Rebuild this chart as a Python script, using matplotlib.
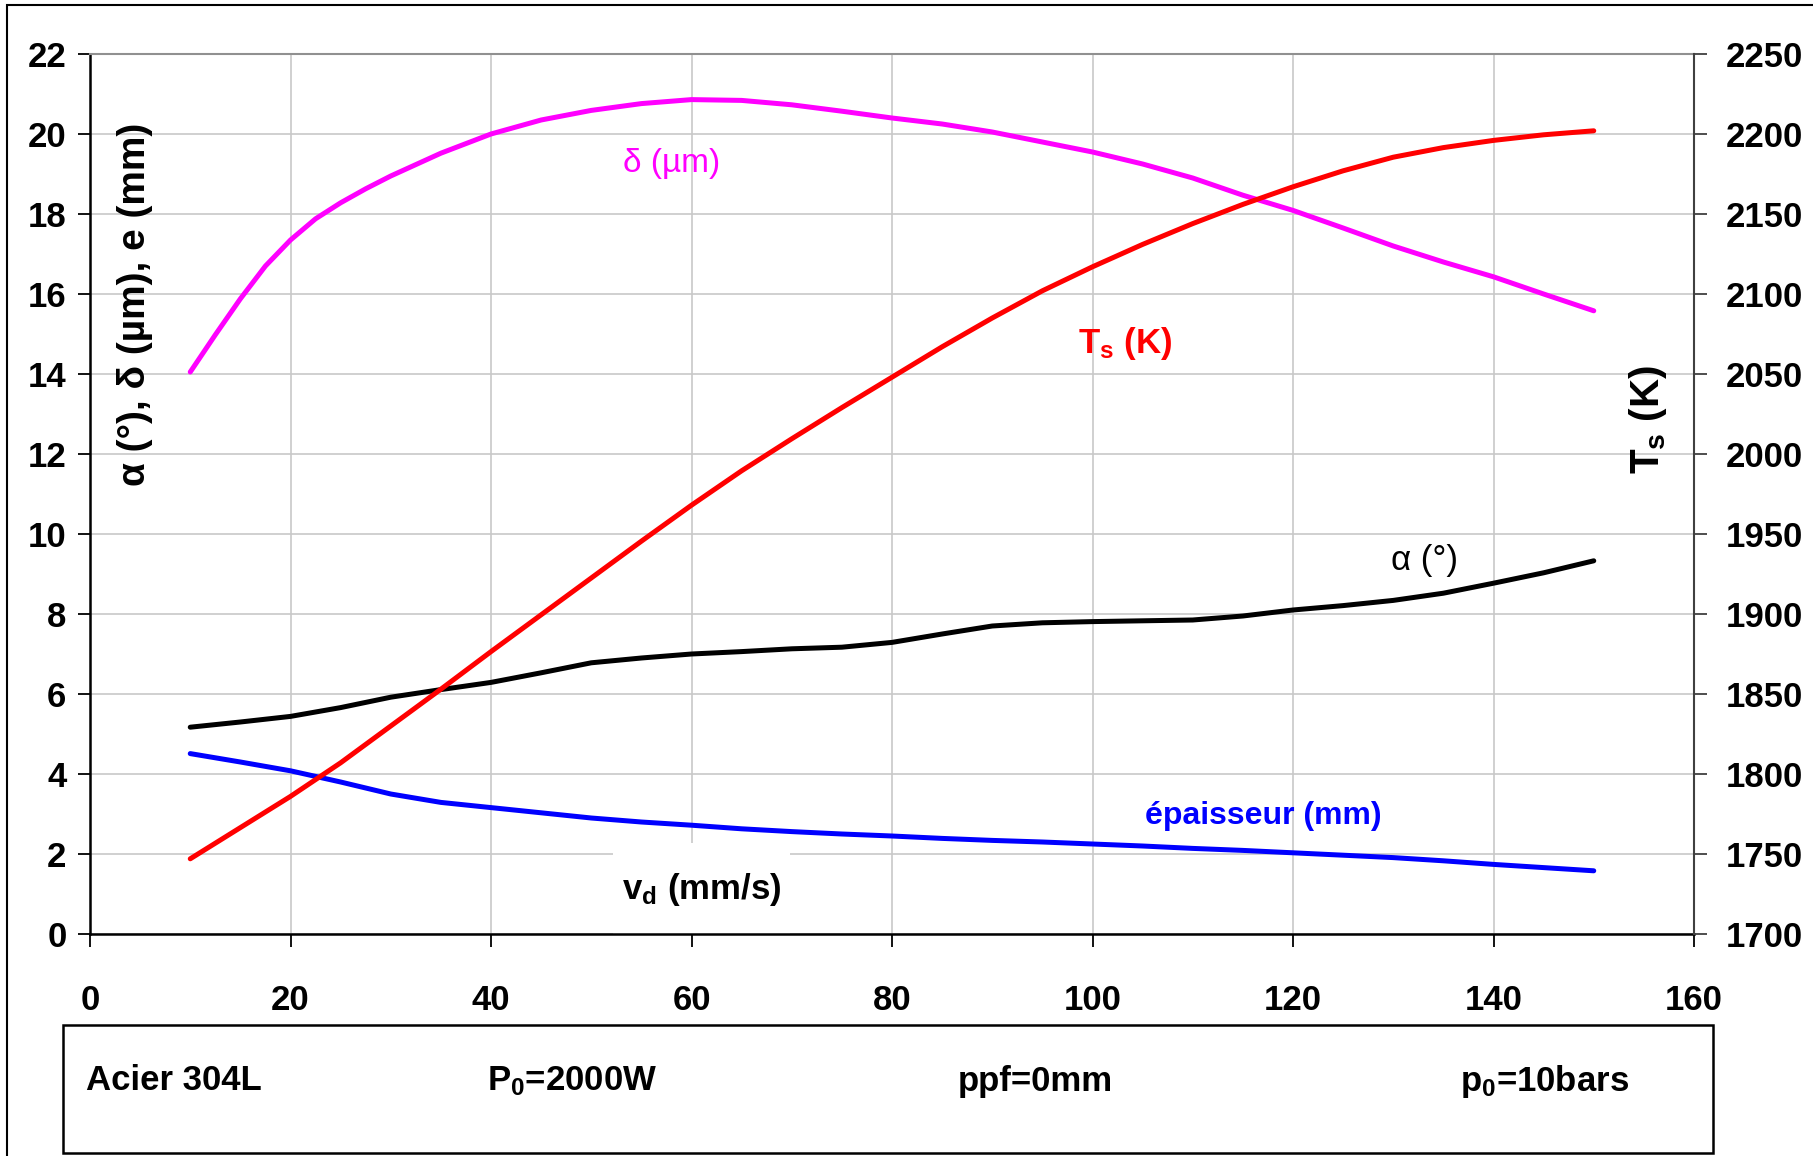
import matplotlib
matplotlib.use("Agg")
import matplotlib.pyplot as plt
from matplotlib.patches import Rectangle

plt.rcParams['font.family'] = ['Liberation Sans', 'DejaVu Sans']
plt.rcParams['font.weight'] = 'bold'
plt.rcParams['mathtext.default'] = 'regular'

# ---------------- data ----------------
vd = [10, 15, 20, 25, 30, 35, 40, 45, 50, 55, 60, 65, 70, 75, 80,
      85, 90, 95, 100, 105, 110, 115, 120, 125, 130, 135, 140, 145, 150]
vd_delta = [10, 12.5, 15, 17.5, 20, 22.5, 25, 27.5, 30, 35, 40, 45, 50, 55, 60, 65,
            70, 75, 80, 85, 90, 95, 100, 105, 110, 115, 120, 125, 130, 135,
            140, 145, 150]
delta_um = [14.05, 14.98, 15.88, 16.70, 17.35, 17.88, 18.28, 18.63, 18.95, 19.52,
            20.00, 20.35, 20.59, 20.76, 20.86, 20.84, 20.73, 20.57, 20.40, 20.25,
            20.05, 19.80, 19.55, 19.25, 18.90, 18.47, 18.09, 17.65, 17.20, 16.80,
            16.43, 16.00, 15.58]
Ts_K = [1747, 1766.5, 1786, 1807, 1830, 1853, 1876.5, 1899.5, 1922.5, 1945.5,
        1968, 1989.5, 2009.5, 2029, 2048, 2067, 2085, 2102, 2117, 2131,
        2144, 2156, 2167, 2177, 2185.5, 2191.5, 2196, 2199.5, 2202]
alpha_deg = [5.17, 5.30, 5.44, 5.66, 5.92, 6.11, 6.29, 6.53, 6.78, 6.90,
             7.00, 7.06, 7.13, 7.17, 7.29, 7.50, 7.70, 7.78, 7.81, 7.83,
             7.85, 7.95, 8.10, 8.21, 8.34, 8.52, 8.77, 9.03, 9.33]
e_mm = [4.51, 4.30, 4.08, 3.80, 3.50, 3.29, 3.16, 3.03, 2.90, 2.80,
        2.72, 2.63, 2.56, 2.50, 2.45, 2.39, 2.34, 2.30, 2.25, 2.20,
        2.14, 2.09, 2.03, 1.97, 1.91, 1.83, 1.74, 1.66, 1.58]

x_ticks = list(range(0, 161, 20))
y_ticks = list(range(0, 23, 2))
y2_ticks = list(range(1700, 2251, 50))
box_texts = ["Acier 304L", "P$_0$=2000W", "ppf=0mm", "p$_0$=10bars"]

# ---------------- figure ----------------
W, H = 1813, 1156
fig = plt.figure(figsize=(W / 100, H / 100), dpi=100)
fig.patch.set_facecolor('white')

ax = fig.add_axes([90 / W, 1 - 934 / H, (1694 - 90) / W, (934 - 54) / H])
ax2 = ax.twinx()

ax.set_xlim(0, 160)
ax.set_ylim(0, 22)
ax2.set_ylim(1700, 2250)
ax.set_xticks(x_ticks)
ax.set_yticks(y_ticks)
ax2.set_yticks(y2_ticks)

ax.set_axisbelow(True)
ax.grid(True, color='#c8c8c8', lw=1.2)

# white box behind the x label
ax.add_patch(Rectangle((52.2, 0), 17.6, 2.28, facecolor='white',
                       edgecolor='none', zorder=1))

lw = 3.6
kw = dict(lw=lw, solid_capstyle='round', solid_joinstyle='round', zorder=3)
ax.plot(vd_delta, delta_um, color='#ff00ff', **kw)
ax.plot(vd, alpha_deg, color='black', **kw)
ax.plot(vd, e_mm, color='#0000ff', **kw)
ax2.plot(vd, Ts_K, color='#ff0000', **kw)

# spines
for sp in ['left', 'bottom']:
    ax.spines[sp].set_color('black')
    ax.spines[sp].set_linewidth(1.8)
ax.spines['top'].set_color('#909090')
ax.spines['top'].set_linewidth(1.5)
ax.spines['right'].set_visible(False)
for sp in ['left', 'bottom', 'top']:
    ax2.spines[sp].set_visible(False)
ax2.spines['right'].set_color('#404040')
ax2.spines['right'].set_linewidth(1.5)

ax.tick_params(axis='y', direction='out', length=9, width=1.3, labelsize=25, pad=8)
ax.tick_params(axis='x', direction='out', length=9, width=1.3, labelsize=25, pad=27)
ax2.tick_params(axis='y', direction='out', length=9, width=1.3, labelsize=25, pad=14,
                color='#404040')
for lbl in ax.get_xticklabels() + ax.get_yticklabels() + ax2.get_yticklabels():
    lbl.set_fontweight('bold')

# axis titles (inside positions as in the original)
fig.text(135 / W, 1 - 304 / H, "α (°), δ (µm), e (mm)", rotation=90,
         ha='center', va='center', fontsize=28, fontweight='bold')
fig.text(1648 / W, 1 - 420 / H, "T$_s$ (K)", rotation=90,
         ha='center', va='center', fontsize=29, fontweight='bold')
ax.text(61, 1.1, "v$_d$ (mm/s)", ha='center', va='center', fontsize=25,
        fontweight='bold', zorder=4)

# curve annotations
ax.text(58, 19.27, "δ (µm)", color='#ff00ff', ha='center', va='center',
        fontsize=24, fontweight='normal', zorder=5)
ax.text(103.3, 14.77, "T$_s$ (K)", color='#ff0000', ha='center', va='center',
        fontsize=25, fontweight='bold', zorder=5)
ax.text(133.1, 9.34, "α (°)", color='black', ha='center', va='center',
        fontsize=25, fontweight='normal', zorder=5)
ax.text(117, 2.95, "épaisseur (mm)", color='#0000ff', ha='center', va='center',
        fontsize=23, fontweight='bold', zorder=5)

# bottom information box
fig.patches.append(Rectangle((63 / W, 1 - 1153 / H), (1713 - 63) / W, (1153 - 1025) / H,
                             transform=fig.transFigure, fill=False,
                             edgecolor='black', lw=1.8))
box_x = [86, 487, 958, 1460]
for txt, xp in zip(box_texts, box_x):
    fig.text(xp / W, 1 - 1081 / H, txt, ha='left', va='center', fontsize=25,
             fontweight='bold')

# outer frame (top and left edges visible)
fig.patches.append(Rectangle((7 / W, -0.5), 2.0, 0.5 + 1 - 5 / H,
                             transform=fig.transFigure, fill=False,
                             edgecolor='black', lw=1.5))

fig.savefig('out.png', dpi=100)
